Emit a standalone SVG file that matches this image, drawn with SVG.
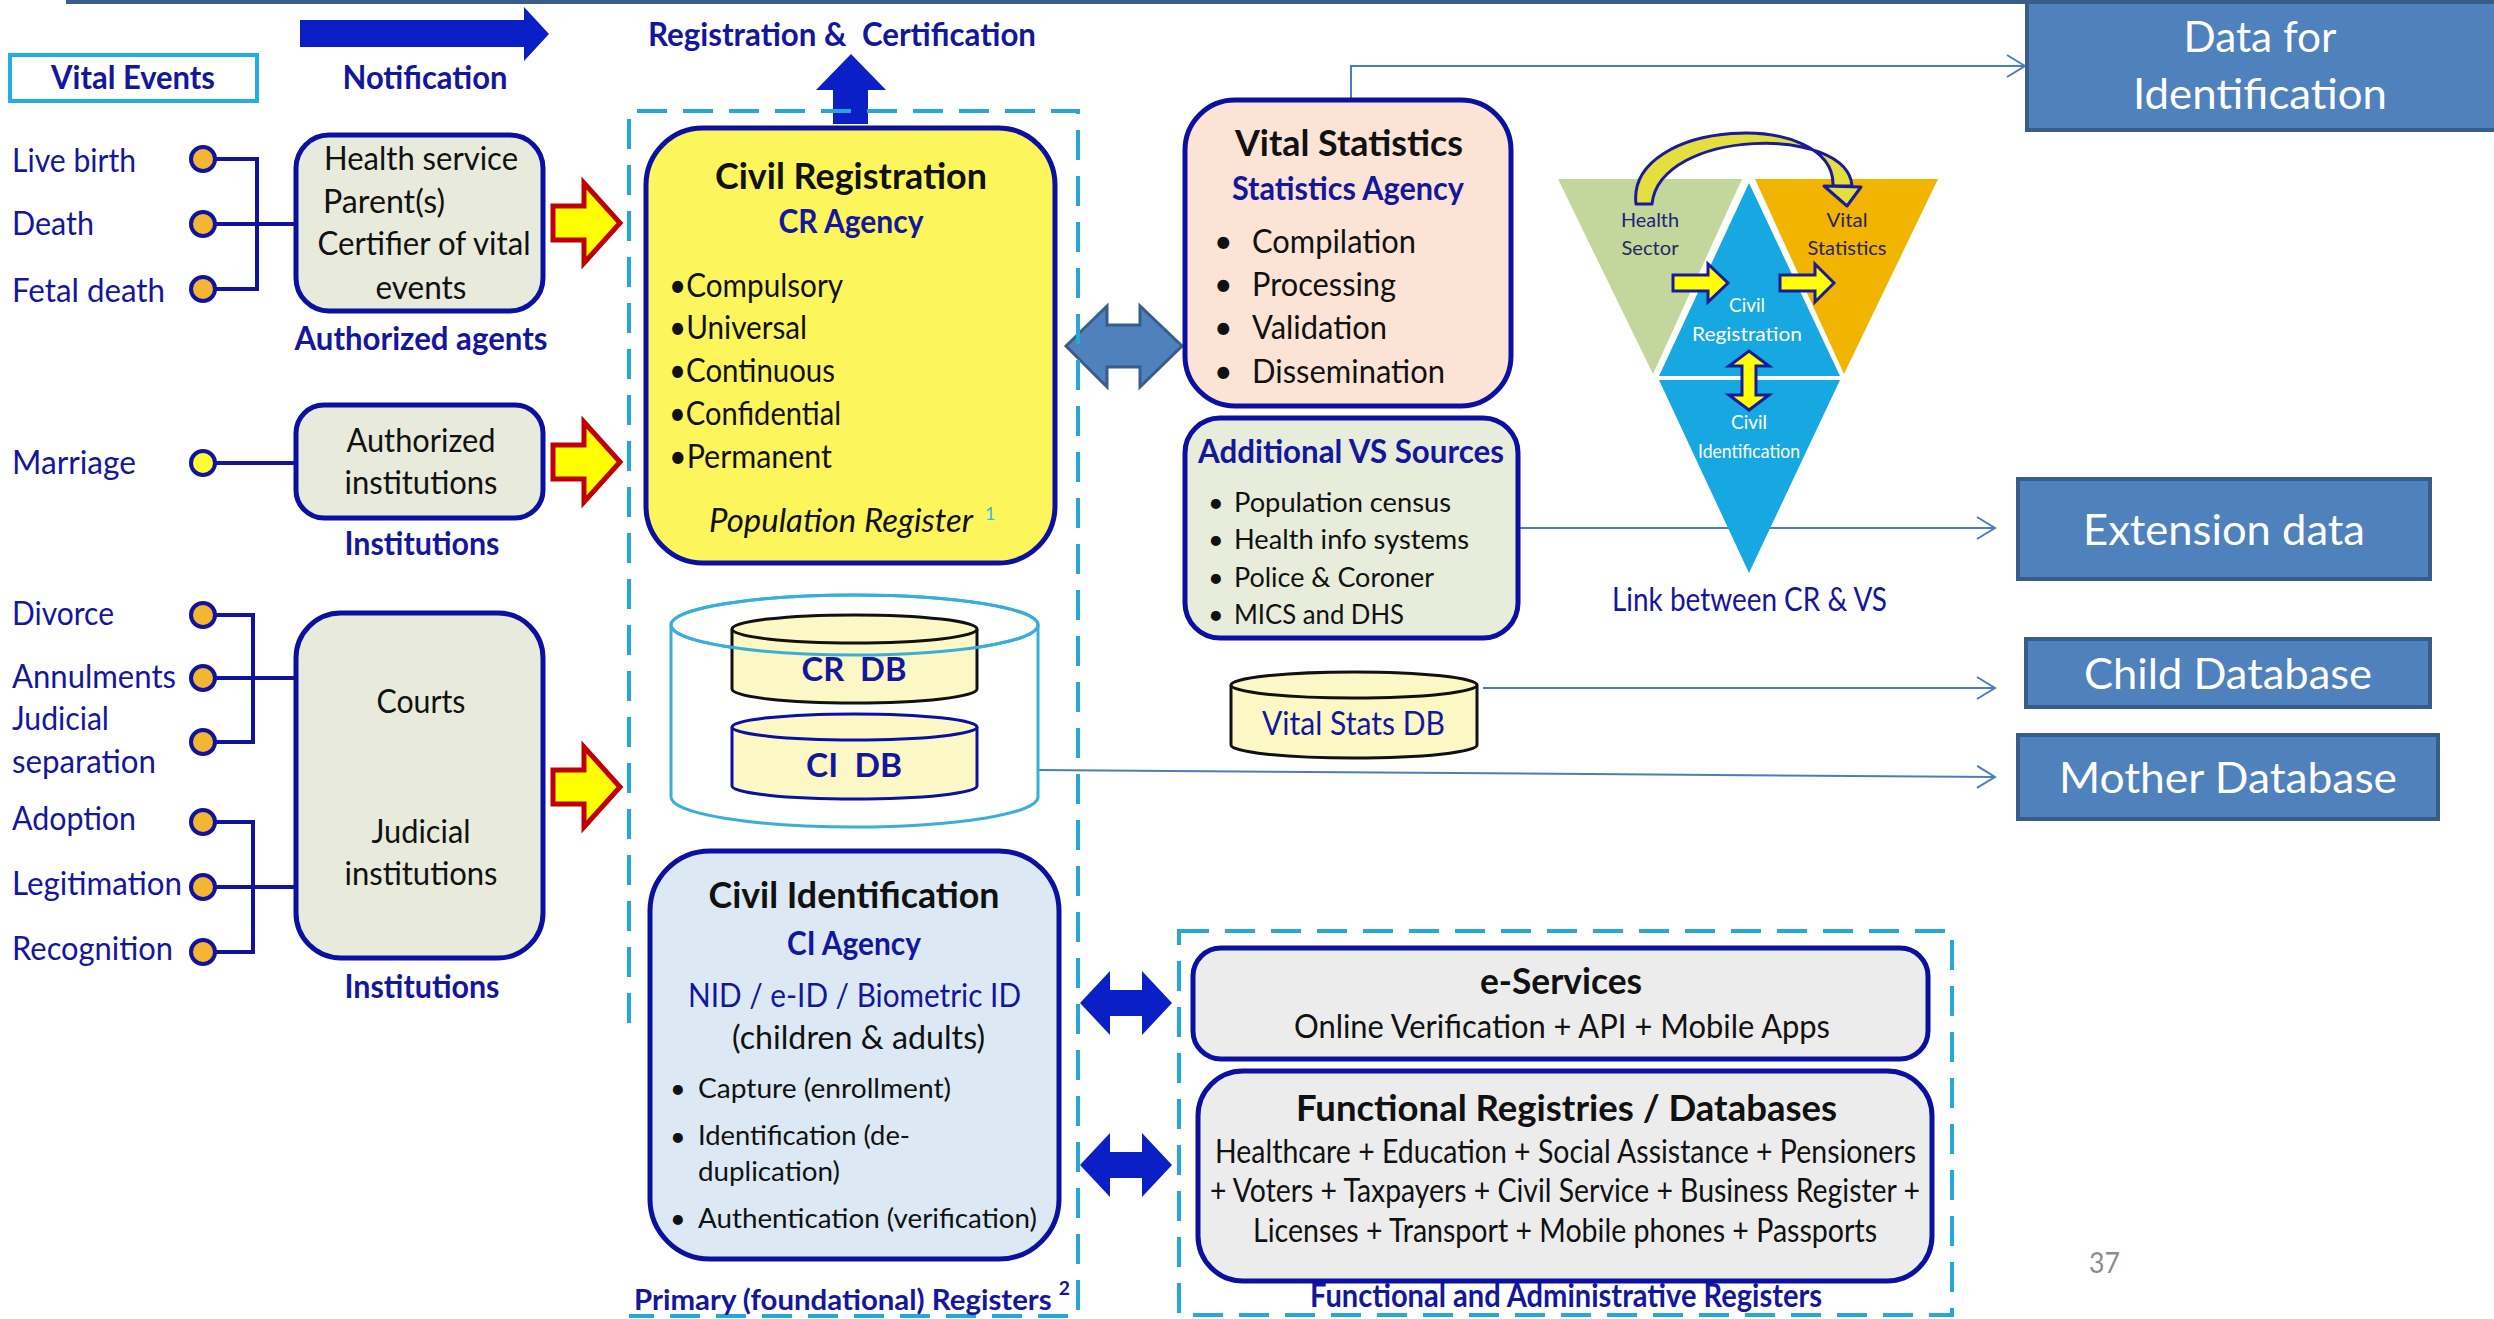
<svg xmlns="http://www.w3.org/2000/svg" width="2494" height="1319" viewBox="0 0 2494 1319">
<defs>
<style>
text{font-family:Lato,"Open Sans","Liberation Sans",sans-serif;font-size:32px;fill:#111;white-space:pre}
.nv{fill:#14169c}
.b{font-weight:700}
.m{text-anchor:middle}
.wt{fill:#fff}
.sm{font-size:27px}
.tt{font-size:36px}
.big{font-size:42px}
.tri{font-size:20px}
.box{stroke:#0c10a0;stroke-width:5}
.dash{fill:none;stroke:#27a6d8;stroke-width:4;stroke-dasharray:30 16}
.ev{stroke:#10149c;stroke-width:4;fill:#f4b533}
.ln{stroke:#10149c;stroke-width:4;fill:none}
.red{fill:#ffff00;stroke:#c00000;stroke-width:5;stroke-linejoin:miter}
.sb{fill:#4f81bd;stroke:#385d8a;stroke-width:4}
.con{fill:none;stroke:#4a7ebb;stroke-width:2}
.db{fill:#fbf8c6;stroke-width:3}
.blu{fill:#0b1fc6}
.ya{fill:#ffff00;stroke:#1a1a9a;stroke-width:3}
</style>
<marker id="chev" markerUnits="userSpaceOnUse" markerWidth="22" markerHeight="26" viewBox="0 0 22 26" refX="20" refY="13" orient="auto"><path d="M2,2 L20,13 L2,24" fill="none" stroke="#4a7ebb" stroke-width="2"/></marker>
</defs>
<rect x="0" y="0" width="2494" height="1319" fill="#fff"/>
<rect x="66" y="0" width="1962" height="4" fill="#3b5d8c"/>

<!-- header -->
<g id="vital-events-header">
<rect x="10" y="55" width="247" height="46" fill="none" stroke="#22aee0" stroke-width="4"/>
<text class="nv b m" x="133" y="89" textLength="164" lengthAdjust="spacingAndGlyphs">Vital Events</text>
</g>
<g id="notification">
<polygon class="blu" points="300,20 524,20 524,7 549,34 524,61 524,47 300,47"/>
<text class="nv b m" x="425" y="89" textLength="165" lengthAdjust="spacingAndGlyphs">Notification</text>
</g>
<g id="registration-certification">
<text class="nv b" x="648" y="46" textLength="388" lengthAdjust="spacingAndGlyphs">Registration &amp;  Certification</text>
<polygon class="blu" points="833,124 833,90 816,90 851,54 886,90 868,90 868,124"/>
</g>

<!-- connectors -->
<g id="connectors">
<g id="event-lines">
<line class="ln" x1="215" y1="159" x2="257" y2="159"/>
<line class="ln" x1="215" y1="224" x2="296" y2="224"/>
<line class="ln" x1="215" y1="289" x2="257" y2="289"/>
<line class="ln" x1="257" y1="157" x2="257" y2="291"/>
<line class="ln" x1="215" y1="463" x2="296" y2="463"/>
<line class="ln" x1="215" y1="615" x2="253" y2="615"/>
<line class="ln" x1="215" y1="678" x2="296" y2="678"/>
<line class="ln" x1="215" y1="742" x2="253" y2="742"/>
<line class="ln" x1="253" y1="613" x2="253" y2="744"/>
<line class="ln" x1="215" y1="822" x2="253" y2="822"/>
<line class="ln" x1="215" y1="887" x2="296" y2="887"/>
<line class="ln" x1="215" y1="952" x2="253" y2="952"/>
<line class="ln" x1="253" y1="820" x2="253" y2="954"/>
</g>
<path class="con" d="M1351,100 V66 H2025" marker-end="url(#chev)"/>
<path class="con" d="M1518,528 H1995" marker-end="url(#chev)"/>
<path class="con" d="M1483,688 H1995" marker-end="url(#chev)"/>
<path class="con" d="M1037,770 L1995,777" marker-end="url(#chev)"/>
<polygon class="red" points="553,206 584,206 584,183 620,223 584,263 584,240 553,240"/>
<polygon class="red" points="553,445 584,445 584,422 620,462 584,502 584,479 553,479"/>
<polygon class="red" points="553,770 584,770 584,747 620,787 584,827 584,804 553,804"/>
<polygon points="1066,346 1107,306 1107,325 1140,325 1140,306 1182,346 1140,387 1140,367 1107,367 1107,387" fill="#4f81bd" stroke="#385d8a" stroke-width="3"/>
<polygon class="blu" points="1080,1003 1110,971 1110,990 1142,990 1142,971 1172,1003 1142,1035 1142,1016 1110,1016 1110,1035"/>
<polygon class="blu" points="1080,1165 1110,1133 1110,1152 1142,1152 1142,1133 1172,1165 1142,1197 1142,1178 1110,1178 1110,1197"/>
</g>

<!-- vital events list -->
<g id="events">
<circle class="ev" cx="203" cy="159" r="12"/>
<circle class="ev" cx="203" cy="224" r="12"/>
<circle class="ev" cx="203" cy="289" r="12"/>
<circle class="ev" cx="203" cy="463" r="12" style="fill:#ffff33"/>
<circle class="ev" cx="203" cy="615" r="12"/>
<circle class="ev" cx="203" cy="678" r="12"/>
<circle class="ev" cx="203" cy="742" r="12"/>
<circle class="ev" cx="203" cy="822" r="12"/>
<circle class="ev" cx="203" cy="887" r="12"/>
<circle class="ev" cx="203" cy="952" r="12"/>
<text class="nv" x="12" y="172" textLength="124" lengthAdjust="spacingAndGlyphs">Live birth</text>
<text class="nv" x="12" y="235" textLength="82" lengthAdjust="spacingAndGlyphs">Death</text>
<text class="nv" x="12" y="302" textLength="153" lengthAdjust="spacingAndGlyphs">Fetal death</text>
<text class="nv" x="12" y="474" textLength="124" lengthAdjust="spacingAndGlyphs">Marriage</text>
<text class="nv" x="12" y="625" textLength="102" lengthAdjust="spacingAndGlyphs">Divorce</text>
<text class="nv" x="12" y="688" textLength="164" lengthAdjust="spacingAndGlyphs">Annulments</text>
<text class="nv" x="12" y="730" textLength="97" lengthAdjust="spacingAndGlyphs">Judicial</text>
<text class="nv" x="12" y="773" textLength="144" lengthAdjust="spacingAndGlyphs">separation</text>
<text class="nv" x="12" y="830" textLength="124" lengthAdjust="spacingAndGlyphs">Adoption</text>
<text class="nv" x="12" y="895" textLength="170" lengthAdjust="spacingAndGlyphs">Legitimation</text>
<text class="nv" x="12" y="960" textLength="161" lengthAdjust="spacingAndGlyphs">Recognition</text>
</g>

<g id="authorized-agents">
<rect class="box" x="296" y="135" width="247" height="176" rx="33" fill="#e8eadb"/>
<text class="m" x="421" y="170" textLength="194" lengthAdjust="spacingAndGlyphs">Health service</text>
<text x="323" y="213" textLength="122" lengthAdjust="spacingAndGlyphs">Parent(s)</text>
<text class="m" x="424" y="255" textLength="213" lengthAdjust="spacingAndGlyphs">Certifier of vital</text>
<text class="m" x="421" y="299" textLength="91" lengthAdjust="spacingAndGlyphs">events</text>
<text class="nv b m" x="421" y="350" textLength="253" lengthAdjust="spacingAndGlyphs">Authorized agents</text>
</g>
<g id="authorized-institutions">
<rect class="box" x="296" y="405" width="247" height="113" rx="28" fill="#e8eadb"/>
<text class="m" x="421" y="452" textLength="149" lengthAdjust="spacingAndGlyphs">Authorized</text>
<text class="m" x="421" y="494" textLength="153" lengthAdjust="spacingAndGlyphs">institutions</text>
<text class="nv b m" x="422" y="555" textLength="155" lengthAdjust="spacingAndGlyphs">Institutions</text>
</g>
<g id="courts">
<rect class="box" x="296" y="613" width="247" height="345" rx="45" fill="#e8eadb"/>
<text class="m" x="421" y="713" textLength="89" lengthAdjust="spacingAndGlyphs">Courts</text>
<text class="m" x="421" y="843" textLength="99" lengthAdjust="spacingAndGlyphs">Judicial</text>
<text class="m" x="421" y="885" textLength="153" lengthAdjust="spacingAndGlyphs">institutions</text>
<text class="nv b m" x="422" y="998" textLength="155" lengthAdjust="spacingAndGlyphs">Institutions</text>
</g>

<!-- primary registers -->
<g id="primary-registers">
<path class="dash" d="M629,1023 V111 H1078 V1316 H629"/>
<text class="nv b" x="634" y="1310" style="font-size:29px" textLength="436" lengthAdjust="spacingAndGlyphs">Primary (foundational) Registers <tspan dy="-15" style="font-size:19px">2</tspan></text>
</g>
<g id="civil-registration">
<rect class="box" x="646" y="128" width="409" height="435" rx="57" fill="#fdf55c"/>
<text class="b m tt" x="851" y="189" textLength="272" lengthAdjust="spacingAndGlyphs">Civil Registration</text>
<text class="nv b m" x="851" y="233" textLength="145" lengthAdjust="spacingAndGlyphs">CR Agency</text>
<text x="669" y="297" textLength="174" lengthAdjust="spacingAndGlyphs">•Compulsory</text>
<text x="669" y="339" textLength="138" lengthAdjust="spacingAndGlyphs">•Universal</text>
<text x="669" y="382" textLength="166" lengthAdjust="spacingAndGlyphs">•Continuous</text>
<text x="669" y="425" textLength="172" lengthAdjust="spacingAndGlyphs">•Confidential</text>
<text x="669" y="468" textLength="163" lengthAdjust="spacingAndGlyphs">•Permanent</text>
<text x="709" y="532" style="font-style:italic" textLength="264" lengthAdjust="spacingAndGlyphs">Population Register</text>
<text x="985" y="520" style="font-size:18px;fill:#3fb6e0">1</text>
</g>
<g id="databases">
<path d="M671,625 V797 A183.5,30 0 0 0 1038,797 V625" fill="#fff" stroke="#3aaed8" stroke-width="3"/>
<ellipse cx="854.5" cy="625" rx="183.5" ry="30" fill="#fff" stroke="#3aaed8" stroke-width="3"/>
<path class="db" d="M732,629 V689 A122.5,14 0 0 0 977,689 V629" stroke="#111"/>
<ellipse class="db" cx="854.5" cy="629" rx="122.5" ry="14" stroke="#111"/>
<path class="db" d="M732,727 V786 A122.5,13 0 0 0 977,786 V727" stroke="#0c10a0"/>
<ellipse class="db" cx="854.5" cy="727" rx="122.5" ry="13" stroke="#0c10a0"/>
<ellipse cx="854.5" cy="625" rx="183.5" ry="30" fill="none" stroke="#3aaed8" stroke-width="3"/>
<text class="nv b m" x="854" y="681" textLength="105" lengthAdjust="spacingAndGlyphs">CR  DB</text>
<text class="nv b m" x="854" y="777" textLength="96" lengthAdjust="spacingAndGlyphs">CI  DB</text>
</g>
<g id="civil-identification">
<rect class="box" x="650" y="851" width="409" height="408" rx="60" fill="#dce9f5"/>
<text class="b m tt" x="854" y="908" textLength="291" lengthAdjust="spacingAndGlyphs">Civil Identification</text>
<text class="nv b m" x="854" y="955" textLength="134" lengthAdjust="spacingAndGlyphs">CI Agency</text>
<text class="nv" x="688" y="1007" textLength="333" lengthAdjust="spacingAndGlyphs">NID / e-ID / Biometric ID</text>
<text x="732" y="1049" textLength="253" lengthAdjust="spacingAndGlyphs">(children &amp; adults)</text>
<text class="sm" x="670" y="1098">•</text>
<text class="sm" x="670" y="1146">•</text>
<text class="sm" x="670" y="1228">•</text>
<text class="sm" x="698" y="1098" textLength="253" lengthAdjust="spacingAndGlyphs">Capture (enrollment)</text>
<text class="sm" x="698" y="1145" textLength="212" lengthAdjust="spacingAndGlyphs">Identification (de-</text>
<text class="sm" x="698" y="1181" textLength="142" lengthAdjust="spacingAndGlyphs">duplication)</text>
<text class="sm" x="698" y="1228" textLength="339" lengthAdjust="spacingAndGlyphs">Authentication (verification)</text>
</g>

<!-- vital statistics -->
<g id="vital-statistics">
<rect class="box" x="1185" y="100" width="326" height="306" rx="50" fill="#fbe4d5"/>
<text class="b m tt" x="1349" y="156" textLength="228" lengthAdjust="spacingAndGlyphs">Vital Statistics</text>
<text class="nv b m" x="1348" y="200" textLength="232" lengthAdjust="spacingAndGlyphs">Statistics Agency</text>
<text x="1214" y="253">•</text>
<text x="1214" y="296">•</text>
<text x="1214" y="339">•</text>
<text x="1214" y="383">•</text>
<text x="1252" y="253" textLength="164" lengthAdjust="spacingAndGlyphs">Compilation</text>
<text x="1252" y="296" textLength="144" lengthAdjust="spacingAndGlyphs">Processing</text>
<text x="1252" y="339" textLength="135" lengthAdjust="spacingAndGlyphs">Validation</text>
<text x="1252" y="383" textLength="193" lengthAdjust="spacingAndGlyphs">Dissemination</text>
</g>
<g id="additional-vs-sources">
<rect class="box" x="1185" y="418" width="333" height="220" rx="35" fill="#e7edda"/>
<text class="nv b" x="1198" y="463" textLength="306" lengthAdjust="spacingAndGlyphs">Additional VS Sources</text>
<text class="sm" x="1208" y="512">•</text>
<text class="sm" x="1208" y="549">•</text>
<text class="sm" x="1208" y="587">•</text>
<text class="sm" x="1208" y="624">•</text>
<text class="sm" x="1234" y="512" textLength="217" lengthAdjust="spacingAndGlyphs">Population census</text>
<text class="sm" x="1234" y="549" textLength="235" lengthAdjust="spacingAndGlyphs">Health info systems</text>
<text class="sm" x="1234" y="587" textLength="200" lengthAdjust="spacingAndGlyphs">Police &amp; Coroner</text>
<text class="sm" x="1234" y="624" textLength="170" lengthAdjust="spacingAndGlyphs">MICS and DHS</text>
</g>
<g id="vital-stats-db">
<path class="db" d="M1231,685 V745 A123,13 0 0 0 1477,745 V685" stroke="#111"/>
<ellipse class="db" cx="1354" cy="685" rx="123" ry="13" stroke="#111"/>
<text class="nv" x="1262" y="735" textLength="183" lengthAdjust="spacingAndGlyphs">Vital Stats DB</text>
</g>

<!-- CR & VS link graphic -->
<g id="link-cr-vs">
<polygon points="1558,179 1742,179 1653,374" fill="#c3d69b"/>
<polygon points="1755,179 1938,179 1844,374" fill="#f1b500"/>
<polygon points="1749,183 1659,376 1840,376" fill="#17a8e1"/>
<polygon points="1659,380 1840,380 1749,573" fill="#17a8e1"/>
<path d="M1636,204 C1626,118 1836,108 1833,186 L1852,186 C1848,125 1660,128 1652,204 Z" fill="#e2df3e" stroke="#1a1a9a" stroke-width="3" stroke-linejoin="round"/>
<polygon points="1824,186 1861,187 1847,206" fill="#e2df3e" stroke="#1a1a9a" stroke-width="3" stroke-linejoin="round"/>
<polygon class="ya" points="1673,275 1708,275 1708,264 1728,283 1708,302 1708,291 1673,291"/>
<polygon class="ya" points="1780,275 1815,275 1815,264 1834,283 1815,302 1815,291 1780,291"/>
<polygon class="ya" points="1749,351 1769,366 1756,366 1756,395 1769,395 1749,410 1729,395 1742,395 1742,366 1729,366"/>
<text class="tri m" x="1650" y="227" style="fill:#1a237e" textLength="58" lengthAdjust="spacingAndGlyphs">Health</text>
<text class="tri m" x="1650" y="255" style="fill:#222a5e" textLength="57" lengthAdjust="spacingAndGlyphs">Sector</text>
<text class="tri m" x="1847" y="227" style="fill:#2b2460" textLength="41" lengthAdjust="spacingAndGlyphs">Vital</text>
<text class="tri m" x="1847" y="255" style="fill:#2b2460" textLength="79" lengthAdjust="spacingAndGlyphs">Statistics</text>
<text class="tri m wt" x="1747" y="312" textLength="36" lengthAdjust="spacingAndGlyphs">Civil</text>
<text class="tri m wt" x="1747" y="341" textLength="110" lengthAdjust="spacingAndGlyphs">Registration</text>
<text class="tri m wt" x="1749" y="429" textLength="36" lengthAdjust="spacingAndGlyphs">Civil</text>
<text class="tri m wt" x="1749" y="458" textLength="102" lengthAdjust="spacingAndGlyphs">Identification</text>
<text class="nv" x="1612" y="611" textLength="275" lengthAdjust="spacingAndGlyphs">Link between CR &amp; VS</text>
</g>

<!-- functional registers -->
<g id="functional-registers">
<rect class="dash" x="1179" y="931" width="773" height="384"/>
<text class="nv b" x="1310" y="1307" textLength="512" lengthAdjust="spacingAndGlyphs">Functional and Administrative Registers</text>
</g>
<g id="e-services">
<rect class="box" x="1193" y="948" width="735" height="111" rx="28" fill="#ececec"/>
<text class="b m tt" x="1561" y="994" textLength="162" lengthAdjust="spacingAndGlyphs">e-Services</text>
<text x="1294" y="1038" textLength="536" lengthAdjust="spacingAndGlyphs">Online Verification + API + Mobile Apps</text>
</g>
<g id="functional-registries">
<rect class="box" x="1198" y="1071" width="734" height="210" rx="45" fill="#ececec"/>
<text class="b tt" x="1296" y="1121" textLength="541" lengthAdjust="spacingAndGlyphs">Functional Registries / Databases</text>
<text x="1215" y="1163" textLength="701" lengthAdjust="spacingAndGlyphs">Healthcare + Education + Social Assistance + Pensioners</text>
<text x="1210" y="1202" textLength="710" lengthAdjust="spacingAndGlyphs">+ Voters + Taxpayers + Civil Service + Business Register +</text>
<text x="1253" y="1242" textLength="624" lengthAdjust="spacingAndGlyphs">Licenses + Transport + Mobile phones + Passports</text>
</g>

<!-- output boxes -->
<g id="data-for-identification">
<rect class="sb" x="2027" y="2" width="470" height="128"/>
<text class="wt m big" x="2260" y="52" textLength="153" lengthAdjust="spacingAndGlyphs">Data for</text>
<text class="wt m big" x="2260" y="109" textLength="254" lengthAdjust="spacingAndGlyphs">Identification</text>
</g>
<g id="extension-data">
<rect class="sb" x="2018" y="479" width="412" height="100"/>
<text class="wt m big" x="2224" y="545" textLength="282" lengthAdjust="spacingAndGlyphs">Extension data</text>
</g>
<g id="child-database">
<rect class="sb" x="2026" y="639" width="404" height="68"/>
<text class="wt m big" x="2228" y="689" textLength="288" lengthAdjust="spacingAndGlyphs">Child Database</text>
</g>
<g id="mother-database">
<rect class="sb" x="2018" y="735" width="420" height="84"/>
<text class="wt m big" x="2228" y="793" textLength="338" lengthAdjust="spacingAndGlyphs">Mother Database</text>
</g>
<text x="2089" y="1273" style="font-size:28px;fill:#8c8c8c" textLength="31" lengthAdjust="spacingAndGlyphs">37</text>
</svg>
